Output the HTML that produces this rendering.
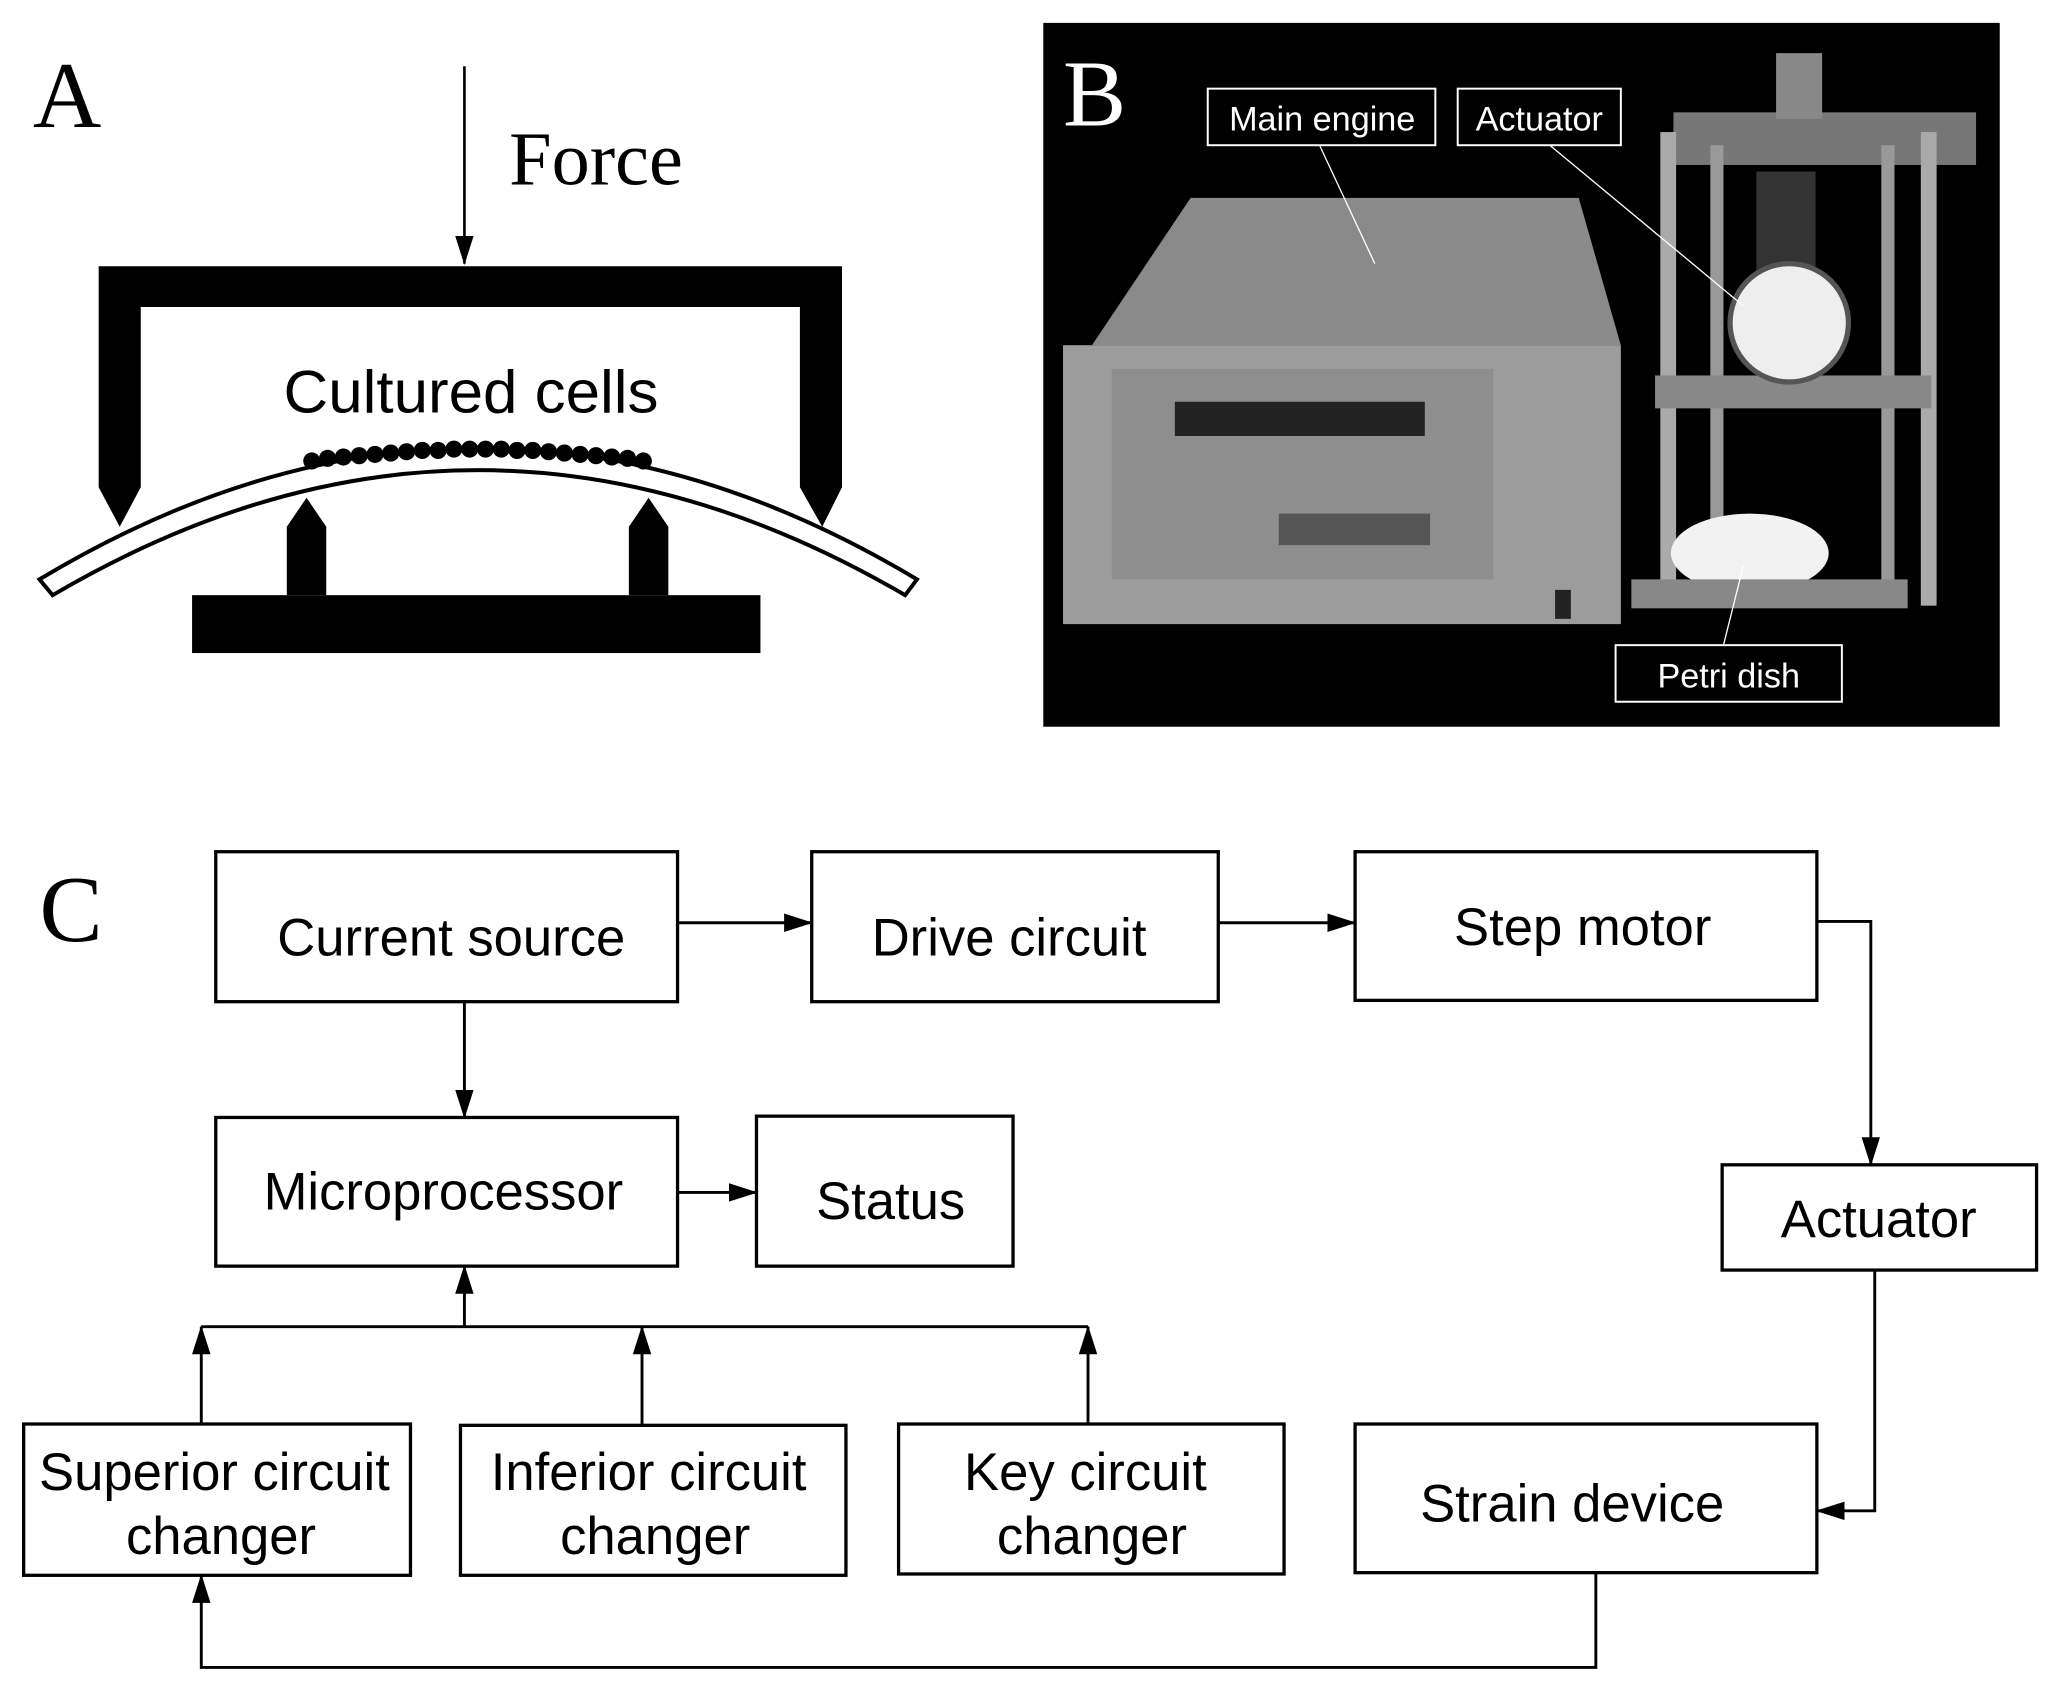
<!DOCTYPE html>
<html><head><meta charset="utf-8"><style>html,body{margin:0;padding:0;background:#fff}svg{display:block}</style></head><body>
<svg width="2055" height="1685" viewBox="0 0 1562 1280" xmlns="http://www.w3.org/2000/svg">
<defs><marker id="ar" markerWidth="22" markerHeight="14" refX="21" refY="7" orient="auto" markerUnits="userSpaceOnUse"><path d="M0,0 L22,7 L0,14 z" fill="#000"/></marker></defs>
<rect width="1562" height="1280" fill="#fff"/>
<!-- Panel A -->
<text x="25" y="96" font-family="Liberation Serif, serif" font-size="72">A</text>
<line x1="353" y1="50" x2="353" y2="200" stroke="#000" stroke-width="2" marker-end="url(#ar)"/>
<text x="387" y="140" font-family="Liberation Serif, serif" font-size="58">Force</text>
<path d="M75,202 H640 V370 L625,400 L608,370 V233 H107 V370 L91,400 L75,370 Z" fill="#000"/>
<path d="M30,440 Q363,240 697,440 L688,452 Q363,262 40,452 Z" fill="#fff" stroke="#000" stroke-width="3"/>
<g fill="#000">
<path d="M218,452 V400 L233,378 L248,400 V452 Z"/>
<path d="M478,452 V400 L493,378 L508,400 V452 Z"/>
<rect x="146" y="452" width="432" height="44"/>
</g>
<g fill="#000">
<circle cx="237" cy="350" r="6.5"/><circle cx="249" cy="348" r="6.5"/><circle cx="261" cy="347" r="6.5"/><circle cx="273" cy="346" r="6.5"/><circle cx="285" cy="345" r="6.5"/><circle cx="297" cy="344" r="6.5"/><circle cx="309" cy="343" r="6.5"/><circle cx="321" cy="342" r="6.5"/><circle cx="333" cy="342" r="6.5"/><circle cx="345" cy="341" r="6.5"/><circle cx="357" cy="341" r="6.5"/><circle cx="369" cy="341" r="6.5"/><circle cx="381" cy="341" r="6.5"/><circle cx="393" cy="342" r="6.5"/><circle cx="405" cy="342" r="6.5"/><circle cx="417" cy="343" r="6.5"/><circle cx="429" cy="344" r="6.5"/><circle cx="441" cy="345" r="6.5"/><circle cx="453" cy="346" r="6.5"/><circle cx="465" cy="347" r="6.5"/><circle cx="477" cy="348" r="6.5"/><circle cx="489" cy="350" r="6.5"/>
</g>
<text x="358" y="313" text-anchor="middle" font-family="Liberation Sans, sans-serif" font-size="46" textLength="285" lengthAdjust="spacingAndGlyphs">Cultured cells</text>
<!-- Panel B -->
<rect x="793" y="17" width="727" height="535" fill="#000"/>
<path d="M830,262 L905,150 L1200,150 L1232,262 Z" fill="#8a8a8a"/>
<rect x="808" y="262" width="424" height="212" fill="#9c9c9c"/>
<rect x="845" y="280" width="290" height="160" fill="#8e8e8e"/>
<rect x="893" y="305" width="190" height="26" fill="#222"/>
<rect x="972" y="390" width="115" height="24" fill="#555"/>
<rect x="1182" y="448" width="12" height="22" fill="#222"/>
<rect x="1272" y="85" width="230" height="40" fill="#777"/>
<rect x="1350" y="40" width="35" height="50" fill="#888"/>
<rect x="1262" y="100" width="12" height="360" fill="#aaa"/>
<rect x="1460" y="100" width="12" height="360" fill="#aaa"/>
<rect x="1300" y="110" width="10" height="350" fill="#999"/>
<rect x="1430" y="110" width="10" height="350" fill="#999"/>
<rect x="1335" y="130" width="45" height="110" fill="#333"/>
<rect x="1258" y="285" width="210" height="25" fill="#888"/>
<circle cx="1360" cy="245" r="45" fill="#eee" stroke="#555" stroke-width="4"/>
<ellipse cx="1330" cy="420" rx="60" ry="30" fill="#f2f2f2"/>
<rect x="1240" y="440" width="210" height="22" fill="#888"/>
<line x1="1003" y1="110" x2="1045" y2="200" stroke="#fff" stroke-width="1"/>
<line x1="1178" y1="110" x2="1325" y2="232" stroke="#fff" stroke-width="1"/>
<line x1="1310" y1="490" x2="1325" y2="430" stroke="#fff" stroke-width="1"/>
<g fill="#000" stroke="#fff" stroke-width="1.5">
<rect x="918" y="67" width="173" height="43"/><rect x="1108" y="67" width="124" height="43"/><rect x="1228" y="490" width="172" height="43"/>
</g>
<g fill="#fff" font-family="Liberation Sans, sans-serif" font-size="26" text-anchor="middle">
<text x="1005" y="99">Main engine</text><text x="1170" y="99">Actuator</text><text x="1314" y="522">Petri dish</text>
</g>
<text x="808" y="95" fill="#fff" font-family="Liberation Serif, serif" font-size="72">B</text>
<!-- Panel C -->
<text x="30" y="715" font-family="Liberation Serif, serif" font-size="72">C</text>
<g fill="none" stroke="#000" stroke-width="2.5">
<rect x="164" y="647" width="351" height="114"/>
<rect x="617" y="647" width="309" height="114"/>
<rect x="1030" y="647" width="351" height="113"/>
<rect x="164" y="849" width="351" height="113"/>
<rect x="575" y="848" width="195" height="114"/>
<rect x="1309" y="885" width="239" height="80"/>
<rect x="18" y="1082" width="294" height="115"/>
<rect x="350" y="1083" width="293" height="114"/>
<rect x="683" y="1082" width="293" height="114"/>
<rect x="1030" y="1082" width="351" height="113"/>
</g>
<g fill="none" stroke="#000" stroke-width="2.2">
<line x1="515" y1="701" x2="617" y2="701" marker-end="url(#ar)"/>
<line x1="926" y1="701" x2="1030" y2="701" marker-end="url(#ar)"/>
<polyline points="1381,700 1422,700 1422,885" marker-end="url(#ar)"/>
<polyline points="1425,965 1425,1148 1381,1148" marker-end="url(#ar)"/>
<line x1="353" y1="761" x2="353" y2="849" marker-end="url(#ar)"/>
<line x1="515" y1="906" x2="575" y2="906" marker-end="url(#ar)"/>
<line x1="153" y1="1008" x2="827" y2="1008"/>
<line x1="353" y1="1008" x2="353" y2="962" marker-end="url(#ar)"/>
<line x1="153" y1="1082" x2="153" y2="1008" marker-end="url(#ar)"/>
<line x1="488" y1="1083" x2="488" y2="1008" marker-end="url(#ar)"/>
<line x1="827" y1="1082" x2="827" y2="1008" marker-end="url(#ar)"/>
<polyline points="1213,1195 1213,1267 153,1267 153,1197" marker-end="url(#ar)"/>
</g>
<g font-family="Liberation Sans, sans-serif" font-size="40" text-anchor="middle">
<text x="343" y="726">Current source</text>
<text x="767" y="726">Drive circuit</text>
<text x="1203" y="718">Step motor</text>
<text x="337" y="919">Microprocessor</text>
<text x="677" y="926">Status</text>
<text x="1428" y="940">Actuator</text>
<text x="163" y="1132">Superior circuit</text><text x="168" y="1181">changer</text>
<text x="493" y="1132">Inferior circuit</text><text x="498" y="1181">changer</text>
<text x="825" y="1132">Key circuit</text><text x="830" y="1181">changer</text>
<text x="1195" y="1156">Strain device</text>
</g>
</svg>
</body></html>
